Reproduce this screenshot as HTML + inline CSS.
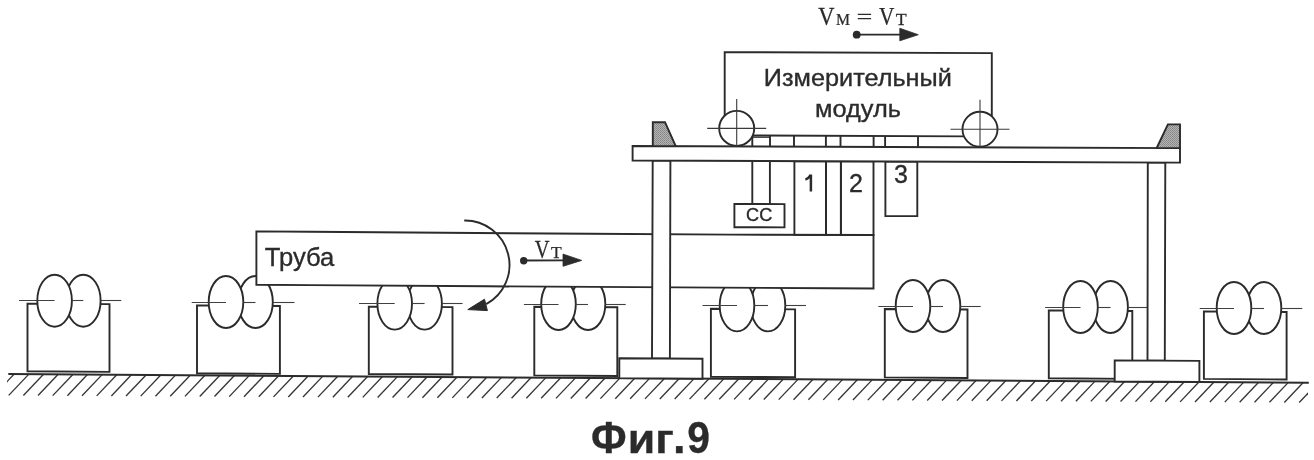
<!DOCTYPE html>
<html><head><meta charset="utf-8"><title>Фиг.9</title>
<style>
html,body{margin:0;padding:0;background:#fff;}
body{width:1314px;height:460px;overflow:hidden;}
svg{display:block;will-change:transform;}
.s{font-family:"Liberation Sans",sans-serif;fill:#2b2b2b;stroke:#2b2b2b;stroke-width:0.35px;}
.r{font-family:"Liberation Serif",serif;fill:#2b2b2b;stroke:#2b2b2b;stroke-width:0.25px;}
</style></head>
<body>
<svg width="1314" height="460" viewBox="0 0 1314 460">
<rect width="1314" height="460" fill="#fff"/>
<defs><pattern id="stip" width="2" height="2" patternUnits="userSpaceOnUse"><rect width="2" height="2" fill="#b4b4b4"/><rect width="1" height="1" fill="#858585"/><rect x="1" y="1" width="1" height="1" fill="#8e8e8e"/></pattern></defs>
<clipPath id="hc"><rect x="7" y="360" width="1301" height="60"/></clipPath>
<g clip-path="url(#hc)" stroke="#363636" stroke-width="1.35">
<line x1="-6" y1="395.32" x2="14.22" y2="374.04"/>
<line x1="8.7" y1="395.4" x2="28.9" y2="374.14"/>
<line x1="23.37" y1="395.48" x2="43.55" y2="374.24"/>
<line x1="38.03" y1="395.56" x2="58.2" y2="374.34"/>
<line x1="52.7" y1="395.64" x2="72.85" y2="374.44"/>
<line x1="67.37" y1="395.72" x2="87.49" y2="374.54"/>
<line x1="82.03" y1="395.8" x2="102.14" y2="374.63"/>
<line x1="96.7" y1="395.88" x2="116.79" y2="374.73"/>
<line x1="111.37" y1="395.96" x2="131.44" y2="374.83"/>
<line x1="126.03" y1="396.05" x2="146.09" y2="374.93"/>
<line x1="140.7" y1="396.13" x2="160.74" y2="375.03"/>
<line x1="155.45" y1="396.21" x2="175.48" y2="375.13"/>
<line x1="170.21" y1="396.29" x2="190.21" y2="375.23"/>
<line x1="184.96" y1="396.37" x2="204.95" y2="375.33"/>
<line x1="199.72" y1="396.45" x2="219.69" y2="375.43"/>
<line x1="214.47" y1="396.53" x2="234.42" y2="375.53"/>
<line x1="229.23" y1="396.61" x2="249.16" y2="375.63"/>
<line x1="243.98" y1="396.69" x2="263.9" y2="375.73"/>
<line x1="258.74" y1="396.78" x2="278.64" y2="375.83"/>
<line x1="273.49" y1="396.86" x2="293.37" y2="375.93"/>
<line x1="288.25" y1="396.94" x2="308.11" y2="376.03"/>
<line x1="303" y1="397.02" x2="322.85" y2="376.13"/>
<line x1="317.93" y1="397.1" x2="337.76" y2="376.23"/>
<line x1="332.86" y1="397.18" x2="352.67" y2="376.33"/>
<line x1="347.79" y1="397.26" x2="367.58" y2="376.43"/>
<line x1="362.72" y1="397.35" x2="382.49" y2="376.53"/>
<line x1="377.65" y1="397.43" x2="397.41" y2="376.63"/>
<line x1="392.58" y1="397.51" x2="412.32" y2="376.73"/>
<line x1="407.51" y1="397.59" x2="427.23" y2="376.83"/>
<line x1="422.44" y1="397.68" x2="442.14" y2="376.93"/>
<line x1="437.37" y1="397.76" x2="457.06" y2="377.04"/>
<line x1="452.3" y1="397.84" x2="471.97" y2="377.14"/>
<line x1="467.11" y1="397.92" x2="486.76" y2="377.24"/>
<line x1="481.92" y1="398" x2="501.55" y2="377.34"/>
<line x1="496.73" y1="398.08" x2="516.34" y2="377.44"/>
<line x1="511.54" y1="398.17" x2="531.14" y2="377.54"/>
<line x1="526.35" y1="398.25" x2="545.93" y2="377.64"/>
<line x1="541.16" y1="398.33" x2="560.72" y2="377.74"/>
<line x1="555.97" y1="398.41" x2="575.51" y2="377.84"/>
<line x1="570.78" y1="398.49" x2="590.31" y2="377.94"/>
<line x1="585.59" y1="398.57" x2="605.1" y2="378.04"/>
<line x1="600.4" y1="398.65" x2="619.89" y2="378.14"/>
<line x1="615.26" y1="398.74" x2="634.73" y2="378.24"/>
<line x1="630.11" y1="398.82" x2="649.57" y2="378.34"/>
<line x1="644.97" y1="398.9" x2="664.41" y2="378.44"/>
<line x1="659.83" y1="398.98" x2="679.25" y2="378.54"/>
<line x1="674.69" y1="399.06" x2="694.09" y2="378.64"/>
<line x1="689.54" y1="399.14" x2="708.93" y2="378.74"/>
<line x1="704.4" y1="399.23" x2="723.77" y2="378.84"/>
<line x1="719.26" y1="399.31" x2="738.61" y2="378.94"/>
<line x1="734.11" y1="399.39" x2="753.45" y2="379.04"/>
<line x1="748.97" y1="399.47" x2="768.29" y2="379.14"/>
<line x1="763.83" y1="399.55" x2="783.12" y2="379.24"/>
<line x1="778.69" y1="399.63" x2="797.96" y2="379.34"/>
<line x1="793.54" y1="399.72" x2="812.8" y2="379.44"/>
<line x1="808.4" y1="399.8" x2="827.64" y2="379.54"/>
<line x1="823.25" y1="399.88" x2="842.48" y2="379.64"/>
<line x1="838.11" y1="399.96" x2="857.31" y2="379.74"/>
<line x1="852.96" y1="400.04" x2="872.15" y2="379.84"/>
<line x1="867.82" y1="400.13" x2="886.99" y2="379.94"/>
<line x1="882.67" y1="400.21" x2="901.82" y2="380.04"/>
<line x1="897.52" y1="400.29" x2="916.66" y2="380.15"/>
<line x1="912.38" y1="400.37" x2="931.5" y2="380.25"/>
<line x1="927.23" y1="400.45" x2="946.33" y2="380.35"/>
<line x1="942.08" y1="400.53" x2="961.17" y2="380.45"/>
<line x1="956.94" y1="400.62" x2="976" y2="380.55"/>
<line x1="971.79" y1="400.7" x2="990.84" y2="380.65"/>
<line x1="986.65" y1="400.78" x2="1005.68" y2="380.75"/>
<line x1="1001.5" y1="400.86" x2="1020.51" y2="380.85"/>
<line x1="1016.38" y1="400.94" x2="1035.38" y2="380.95"/>
<line x1="1031.27" y1="401.02" x2="1050.25" y2="381.05"/>
<line x1="1046.15" y1="401.11" x2="1065.11" y2="381.15"/>
<line x1="1061.04" y1="401.19" x2="1079.98" y2="381.25"/>
<line x1="1075.92" y1="401.27" x2="1094.85" y2="381.35"/>
<line x1="1090.81" y1="401.35" x2="1109.72" y2="381.45"/>
<line x1="1105.69" y1="401.43" x2="1124.58" y2="381.55"/>
<line x1="1120.58" y1="401.52" x2="1139.45" y2="381.65"/>
<line x1="1135.46" y1="401.6" x2="1154.32" y2="381.75"/>
<line x1="1150.35" y1="401.68" x2="1169.18" y2="381.85"/>
<line x1="1165.24" y1="401.76" x2="1184.05" y2="381.95"/>
<line x1="1180.12" y1="401.84" x2="1198.92" y2="382.05"/>
<line x1="1195.01" y1="401.92" x2="1213.79" y2="382.16"/>
<line x1="1209.89" y1="402.01" x2="1228.65" y2="382.26"/>
<line x1="1224.78" y1="402.09" x2="1243.52" y2="382.36"/>
<line x1="1239.66" y1="402.17" x2="1258.39" y2="382.46"/>
<line x1="1254.55" y1="402.25" x2="1273.25" y2="382.56"/>
<line x1="1269.43" y1="402.33" x2="1288.12" y2="382.66"/>
<line x1="1284.32" y1="402.42" x2="1302.99" y2="382.76"/>
<line x1="1299.2" y1="402.5" x2="1317.86" y2="382.86"/>
<line x1="1314.1" y1="402.58" x2="1332.74" y2="382.96"/>
</g>
<line x1="8.3" y1="374" x2="1308.8" y2="382.8" stroke="#2b2b2b" stroke-width="2.0"/>
<polygon points="27.5,303.6 109.5,304.13 109.5,371.83 27.5,371.3" fill="#fff" stroke="#2b2b2b" stroke-width="1.9" stroke-linejoin="miter" />
<ellipse cx="83.3" cy="300.7" rx="17.3" ry="26.0" fill="#fff" stroke="#2b2b2b" stroke-width="1.9"/>
<ellipse cx="54.6" cy="300.7" rx="17.3" ry="26.0" fill="#fff" stroke="#2b2b2b" stroke-width="1.9"/>
<line x1="19" y1="300.5" x2="54.6" y2="300.5" stroke="#404040" stroke-width="1.1"/>
<line x1="71.9" y1="300.5" x2="83.3" y2="300.5" stroke="#404040" stroke-width="1.1"/>
<line x1="100.6" y1="300.5" x2="121.3" y2="300.5" stroke="#404040" stroke-width="1.1"/>
<polygon points="197,305.4 279.9,305.94 279.9,373.84 197,373.3" fill="#fff" stroke="#2b2b2b" stroke-width="1.9" stroke-linejoin="miter" />
<ellipse cx="255.5" cy="302" rx="17.3" ry="26.0" fill="#fff" stroke="#2b2b2b" stroke-width="1.9"/>
<ellipse cx="226" cy="302" rx="17.3" ry="26.0" fill="#fff" stroke="#2b2b2b" stroke-width="1.9"/>
<line x1="191.7" y1="302.5" x2="226" y2="302.5" stroke="#404040" stroke-width="1.1"/>
<line x1="243.3" y1="302.5" x2="255.5" y2="302.5" stroke="#404040" stroke-width="1.1"/>
<line x1="272.8" y1="302.5" x2="294.5" y2="302.5" stroke="#404040" stroke-width="1.1"/>
<polygon points="368.8,306.6 452.5,307.14 452.5,374.54 368.8,374" fill="#fff" stroke="#2b2b2b" stroke-width="1.9" stroke-linejoin="miter" />
<ellipse cx="424.6" cy="303.6" rx="17.3" ry="26.0" fill="#fff" stroke="#2b2b2b" stroke-width="1.9"/>
<ellipse cx="394.7" cy="303.6" rx="17.3" ry="26.0" fill="#fff" stroke="#2b2b2b" stroke-width="1.9"/>
<line x1="359" y1="303.5" x2="394.7" y2="303.5" stroke="#404040" stroke-width="1.1"/>
<line x1="412" y1="303.5" x2="424.6" y2="303.5" stroke="#404040" stroke-width="1.1"/>
<line x1="441.9" y1="303.5" x2="462.6" y2="303.5" stroke="#404040" stroke-width="1.1"/>
<polygon points="534.3,306.7 617.3,307.24 617.3,375.94 534.3,375.4" fill="#fff" stroke="#2b2b2b" stroke-width="1.9" stroke-linejoin="miter" />
<ellipse cx="588" cy="304" rx="17.3" ry="26.0" fill="#fff" stroke="#2b2b2b" stroke-width="1.9"/>
<ellipse cx="558.5" cy="304" rx="17.3" ry="26.0" fill="#fff" stroke="#2b2b2b" stroke-width="1.9"/>
<line x1="523.9" y1="304.5" x2="558.5" y2="304.5" stroke="#404040" stroke-width="1.1"/>
<line x1="575.8" y1="304.5" x2="588" y2="304.5" stroke="#404040" stroke-width="1.1"/>
<line x1="605.3" y1="304.5" x2="625.7" y2="304.5" stroke="#404040" stroke-width="1.1"/>
<polygon points="710.9,308.8 795.1,309.35 795.1,377.25 710.9,376.7" fill="#fff" stroke="#2b2b2b" stroke-width="1.9" stroke-linejoin="miter" />
<ellipse cx="768" cy="305.4" rx="17.3" ry="26.0" fill="#fff" stroke="#2b2b2b" stroke-width="1.9"/>
<ellipse cx="737" cy="305.4" rx="17.3" ry="26.0" fill="#fff" stroke="#2b2b2b" stroke-width="1.9"/>
<line x1="702.5" y1="305.5" x2="737" y2="305.5" stroke="#404040" stroke-width="1.1"/>
<line x1="754.3" y1="305.5" x2="768" y2="305.5" stroke="#404040" stroke-width="1.1"/>
<line x1="785.3" y1="305.5" x2="806" y2="305.5" stroke="#404040" stroke-width="1.1"/>
<polygon points="884.8,309 967.5,309.54 967.5,377.94 884.8,377.4" fill="#fff" stroke="#2b2b2b" stroke-width="1.9" stroke-linejoin="miter" />
<ellipse cx="943" cy="306" rx="17.3" ry="26.0" fill="#fff" stroke="#2b2b2b" stroke-width="1.9"/>
<ellipse cx="913" cy="306" rx="17.3" ry="26.0" fill="#fff" stroke="#2b2b2b" stroke-width="1.9"/>
<line x1="878.3" y1="306.5" x2="913" y2="306.5" stroke="#404040" stroke-width="1.1"/>
<line x1="930.3" y1="306.5" x2="943" y2="306.5" stroke="#404040" stroke-width="1.1"/>
<line x1="960.3" y1="306.5" x2="980.7" y2="306.5" stroke="#404040" stroke-width="1.1"/>
<polygon points="1048.8,310.4 1132.3,310.94 1132.3,378.84 1048.8,378.3" fill="#fff" stroke="#2b2b2b" stroke-width="1.9" stroke-linejoin="miter" />
<ellipse cx="1110.6" cy="307" rx="17.3" ry="26.0" fill="#fff" stroke="#2b2b2b" stroke-width="1.9"/>
<ellipse cx="1080.5" cy="307" rx="17.3" ry="26.0" fill="#fff" stroke="#2b2b2b" stroke-width="1.9"/>
<line x1="1045.1" y1="307.5" x2="1080.5" y2="307.5" stroke="#404040" stroke-width="1.1"/>
<line x1="1097.8" y1="307.5" x2="1110.6" y2="307.5" stroke="#404040" stroke-width="1.1"/>
<line x1="1127.9" y1="307.5" x2="1147" y2="307.5" stroke="#404040" stroke-width="1.1"/>
<polygon points="1203.9,311.4 1286.6,311.94 1286.6,379.44 1203.9,378.9" fill="#fff" stroke="#2b2b2b" stroke-width="1.9" stroke-linejoin="miter" />
<ellipse cx="1264" cy="308" rx="17.3" ry="26.0" fill="#fff" stroke="#2b2b2b" stroke-width="1.9"/>
<ellipse cx="1234" cy="308" rx="17.3" ry="26.0" fill="#fff" stroke="#2b2b2b" stroke-width="1.9"/>
<line x1="1199.7" y1="308.5" x2="1234" y2="308.5" stroke="#404040" stroke-width="1.1"/>
<line x1="1251.3" y1="308.5" x2="1264" y2="308.5" stroke="#404040" stroke-width="1.1"/>
<line x1="1281.3" y1="308.5" x2="1302.3" y2="308.5" stroke="#404040" stroke-width="1.1"/>
<polygon points="256.4,231.4 310,231.8 590,233.8 730,234.6 873.5,235 873.5,288.5 830,288.3 487,286.3 310,285.1 256.4,284.7" fill="#fff" stroke="#2b2b2b" stroke-width="1.9" stroke-linejoin="miter" />
<polygon points="652.7,160.58 670.4,160.64 669.9,358.6 652,358.5" fill="#fff" stroke="#2b2b2b" stroke-width="1.9" stroke-linejoin="miter" />
<polygon points="1147.8,162.46 1165.3,162.52 1164.8,360.7 1147.5,360.6" fill="#fff" stroke="#2b2b2b" stroke-width="1.9" stroke-linejoin="miter" />
<polygon points="619.3,358.3 702.5,358.8 702.5,378.7 619.3,378.13" fill="#fff" stroke="#2b2b2b" stroke-width="1.9" stroke-linejoin="miter" />
<polygon points="1114.7,360.4 1199.4,360.9 1199.4,382.06 1114.7,381.48" fill="#fff" stroke="#2b2b2b" stroke-width="1.9" stroke-linejoin="miter" />
<line x1="752.3" y1="160.95" x2="752.3" y2="204" stroke="#2b2b2b" stroke-width="1.9"/>
<line x1="769.9" y1="161.02" x2="769.9" y2="204" stroke="#2b2b2b" stroke-width="1.9"/>
<polygon points="734.4,203.9 784.5,204.1 784.5,227.4 734.4,227.2" fill="#fff" stroke="#2b2b2b" stroke-width="1.9" stroke-linejoin="miter" />
<polygon points="794.4,161.11 826,161.23 826,234.87 794.4,234.78" fill="none" stroke="#2b2b2b" stroke-width="1.9" stroke-linejoin="miter" />
<polygon points="826,161.23 840.9,161.29 840.9,234.91 826,234.87" fill="none" stroke="#2b2b2b" stroke-width="1.9" stroke-linejoin="miter" />
<polygon points="840.9,161.29 873.5,161.42 873.5,235 840.9,234.91" fill="none" stroke="#2b2b2b" stroke-width="1.9" stroke-linejoin="miter" />
<polygon points="885.4,161.46 917.3,161.58 917.3,216.1 885.4,216" fill="#fff" stroke="#2b2b2b" stroke-width="1.9" stroke-linejoin="miter" />
<polygon points="632.6,146 1180,148.08 1180,162.58 632.6,160.5" fill="#fff" stroke="#2b2b2b" stroke-width="1.9" stroke-linejoin="miter" />
<polygon points="652.8,146.08 652.8,122.2 665,122.2 675.7,146.16" fill="url(#stip)" stroke="#2b2b2b" stroke-width="1.9" stroke-linejoin="miter" />
<polygon points="1156.7,147.99 1167.9,124.4 1180,124.4 1180,148.08" fill="url(#stip)" stroke="#2b2b2b" stroke-width="1.9" stroke-linejoin="miter" />
<line x1="752.3" y1="135.5" x2="967" y2="136.36" stroke="#2b2b2b" stroke-width="1.9"/>
<line x1="752.3" y1="137.2" x2="770" y2="137.2" stroke="#2b2b2b" stroke-width="1.3"/>
<line x1="752.3" y1="135.5" x2="752.3" y2="146.45" stroke="#2b2b2b" stroke-width="1.9"/>
<line x1="770" y1="135.57" x2="770" y2="146.52" stroke="#2b2b2b" stroke-width="1.9"/>
<line x1="794" y1="135.67" x2="794" y2="146.61" stroke="#2b2b2b" stroke-width="1.9"/>
<line x1="825.9" y1="135.79" x2="825.9" y2="146.73" stroke="#2b2b2b" stroke-width="1.9"/>
<line x1="840.5" y1="135.85" x2="840.5" y2="146.79" stroke="#2b2b2b" stroke-width="1.9"/>
<line x1="873.6" y1="135.99" x2="873.6" y2="146.92" stroke="#2b2b2b" stroke-width="1.9"/>
<line x1="885.1" y1="136.03" x2="885.1" y2="146.96" stroke="#2b2b2b" stroke-width="1.9"/>
<line x1="918" y1="136.16" x2="918" y2="147.08" stroke="#2b2b2b" stroke-width="1.9"/>
<polyline points="724.7,118 724.7,52.1 991.8,53.17 991.8,118" fill="none" stroke="#2b2b2b" stroke-width="1.9"/>
<circle cx="736.7" cy="128.4" r="17.5" fill="#fff" stroke="#2b2b2b" stroke-width="1.9"/>
<line x1="736.7" y1="98.9" x2="736.7" y2="146.2" stroke="#3a3a3a" stroke-width="1.1"/>
<line x1="707.2" y1="128.4" x2="766.2" y2="128.4" stroke="#3a3a3a" stroke-width="1.1"/>
<circle cx="980" cy="129.2" r="17.5" fill="#fff" stroke="#2b2b2b" stroke-width="1.9"/>
<line x1="980" y1="99.7" x2="980" y2="147" stroke="#3a3a3a" stroke-width="1.1"/>
<line x1="950.5" y1="129.2" x2="1009.5" y2="129.2" stroke="#3a3a3a" stroke-width="1.1"/>
<path d="M464.22,220.51 A44.5,44.5 0 0 1 486.23,304.11" fill="none" stroke="#2b2b2b" stroke-width="1.9"/>
<polygon points="467.8,309.6 484.5,299.2 487.4,310.6" fill="#2b2b2b" stroke="#2b2b2b" stroke-width="1" stroke-linejoin="miter" />
<circle cx="523.7" cy="260.7" r="3.7" fill="#2b2b2b"/>
<line x1="523.7" y1="260.5" x2="564" y2="260.4" stroke="#2b2b2b" stroke-width="1.8"/>
<polygon points="563,254.1 581.7,260.4 563,266.3" fill="#2b2b2b" stroke="#2b2b2b" stroke-width="0.8" stroke-linejoin="miter" />
<circle cx="856.7" cy="34.7" r="3.9" fill="#2b2b2b"/>
<line x1="856.7" y1="34.7" x2="901" y2="34.7" stroke="#2b2b2b" stroke-width="1.8"/>
<polygon points="899.8,28.3 918.3,34.7 899.8,40.8" fill="#2b2b2b" stroke="#2b2b2b" stroke-width="0.8" stroke-linejoin="miter" />
<text class="s" x="763.8" y="85.9" font-size="24.6" textLength="188" lengthAdjust="spacingAndGlyphs">Измерительный</text>
<text class="s" x="815" y="116.9" font-size="24.6" textLength="86" lengthAdjust="spacingAndGlyphs">модуль</text>
<text class="s" x="264.8" y="266" font-size="25.2" textLength="69.5" lengthAdjust="spacingAndGlyphs">Труба</text>
<text class="s" x="746.1" y="220.8" font-size="18" textLength="26.2" lengthAdjust="spacingAndGlyphs">СС</text>
<path d="M810.9,174.6 L810.9,191.4 M810.6,175.2 C809.3,177.4 807.6,178.8 805.4,179.6" fill="none" stroke="#2b2b2b" stroke-width="2.5" stroke-linecap="butt"/>
<text class="s" x="849" y="192" font-size="25">2</text>
<text class="s" x="894" y="182.8" font-size="25">3</text>
<text class="s" font-size="45.3" font-weight="bold" transform="translate(591.1,452.6) scale(0.922,0.98)">Ф</text>
<text class="s" font-size="45.3" font-weight="bold" transform="translate(627.8,452.9) scale(0.986,0.916)">иг</text>
<text class="s" font-size="45.3" font-weight="bold" transform="translate(673,452.9)">.</text>
<text class="s" font-size="45.3" font-weight="bold" transform="translate(687.3,453.2) scale(0.9,1)">9</text>
<text class="r" font-size="25" transform="translate(818.2,25.1) scale(0.9,1.01)">V</text>
<text class="r" font-size="17.5" transform="translate(836,25.1) scale(0.9,1)">М</text>
<path d="M857.8,14.3 H871.1 M857.8,18.6 H871.1" stroke="#2b2b2b" stroke-width="1.35"/>
<text class="r" font-size="25" transform="translate(879.1,25) scale(0.85,1)">V</text>
<text class="r" font-size="17" transform="translate(895.8,25.2) scale(1.05,1)">Т</text>
<text class="r" font-size="25" transform="translate(534.8,257.8) scale(0.82,1.02)">V</text>
<text class="r" font-size="17.5" transform="translate(550.9,257.8) scale(1.0,1.0)">Т</text>
</svg>
</body></html>
